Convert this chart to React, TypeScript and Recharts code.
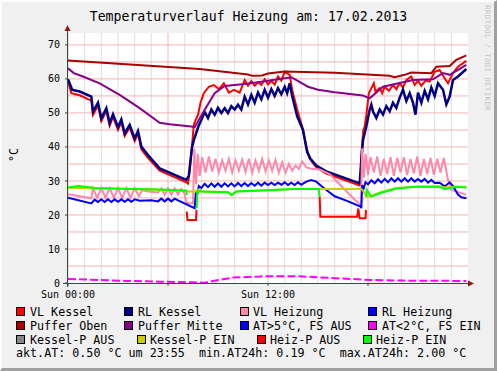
import { LineChart, Line, XAxis, YAxis, CartesianGrid, ReferenceLine } from 'recharts'

type Pt = [number, number | null]

// time in hours since Sun 00:00, temperature in °C
const vlKessel: Pt[] = [
  [0, 59.3], [0.2, 55.8], [0.7, 55.2], [1.4, 53.6], [1.5, 49.4], [1.8, 52.2], [2.0, 47.6], [2.3, 50.6],
  [2.5, 46.2], [2.7, 48.8], [3.0, 45.0], [3.2, 47.3], [3.4, 43.2], [3.7, 45.7], [4.0, 41.7], [4.2, 43.9],
  [4.4, 39.3], [4.8, 36.8], [5.5, 33.0], [7.1, 29.6], [7.2, 29.2], [7.3, 33], [7.45, 41], [7.55, 46.5],
  [7.65, 47.9], [7.8, 49.4], [7.95, 53], [8.15, 55.8], [8.45, 57.7], [8.75, 58.2], [9.05, 57.0], [9.35, 58.7],
  [9.65, 56.0], [9.95, 56.8], [10.3, 56.0], [10.6, 59.7], [10.8, 58.0], [11.0, 59.4], [11.2, 58.0], [11.4, 59.0],
  [11.6, 58.2], [11.8, 59.9], [12.0, 58.4], [12.2, 59.4], [12.4, 58.3], [12.6, 60.7], [12.8, 59.5], [13.0, 62.1],
  [13.3, 61.2], [13.45, 56.8], [13.75, 51.0], [14.05, 46.0], [14.3, 40.0], [14.5, 36.5], [14.9, 34.0], [15.5, 32.2],
  [17.5, 28.7], [17.55, 29.5], [17.62, 39], [17.72, 45], [17.8, 46], [17.9, 49.4], [18.05, 55.8], [18.35, 58.7],
  [18.45, 56.3], [18.7, 57.3], [18.85, 55.8], [19.0, 57.7], [19.25, 56.5], [19.5, 58.2], [19.7, 57.0], [19.9, 58.7],
  [20.1, 57.5], [20.3, 59.7], [20.6, 60.7], [20.8, 58.2], [21.0, 59.5], [21.2, 58.0], [21.45, 59.5], [21.7, 59.2],
  [22.0, 62.1], [22.3, 62.6], [22.6, 60.2], [22.8, 58.7], [23.1, 61.7], [23.4, 63.6], [23.9, 65.3],
]

const rlKessel: Pt[] = [
  [0, 59.9], [0.25, 56.8], [0.7, 56.3], [1.4, 54.8], [1.5, 50.4], [1.8, 53.0], [2.0, 48.4], [2.3, 51.4],
  [2.5, 47.0], [2.7, 49.6], [3.0, 45.8], [3.2, 48.1], [3.4, 44.0], [3.7, 46.5], [4.0, 42.5], [4.2, 44.7],
  [4.4, 40.1], [4.8, 37.6], [5.5, 33.7], [7.1, 30.3], [7.25, 31.5], [7.35, 36], [7.45, 40.1], [7.55, 42],
  [7.62, 43], [7.82, 46], [8.0, 47.9], [8.2, 50.3], [8.4, 48.5], [8.6, 51], [8.8, 49.5], [9.0, 51.5],
  [9.2, 50], [9.4, 51.4], [9.6, 50], [9.8, 52], [10.0, 51], [10.2, 52.4], [10.4, 51], [10.6, 54.8],
  [10.8, 52.5], [11.0, 55.3], [11.2, 53], [11.4, 56], [11.6, 54], [11.8, 56.8], [12.0, 54.5], [12.2, 57],
  [12.4, 55], [12.6, 57.3], [12.8, 55.5], [13.0, 57.7], [13.15, 55.8], [13.3, 58.7], [13.45, 55], [13.75, 49],
  [14.1, 45], [14.35, 38.5], [14.55, 36.5], [14.9, 34.5], [15.5, 32.8], [17.5, 29.3], [17.6, 36.2], [17.7, 42],
  [17.9, 46], [18.1, 50.9], [18.2, 52.4], [18.3, 50.4], [18.5, 48.5], [18.7, 51], [18.9, 49.5], [19.1, 52],
  [19.3, 50.5], [19.5, 53], [19.7, 51.5], [19.9, 54.5], [20.1, 56.8], [20.3, 53.5], [20.5, 55.8], [20.7, 53],
  [20.85, 49.5], [21.0, 56], [21.2, 53], [21.4, 56.5], [21.6, 54], [21.8, 57.5], [22.0, 55], [22.2, 58.7],
  [22.5, 56.8], [22.7, 52.5], [22.9, 54.8], [23.1, 59.7], [23.4, 60.7], [23.9, 62.9],
]

const vlHeizung: Pt[] = [
  [0, 26.1], [1.4, 24.9], [1.5, 27.9], [1.75, 25.0], [2.0, 27.9], [2.25, 25.0], [2.5, 27.9], [2.75, 25.0],
  [3.0, 27.9], [3.25, 25.0], [3.5, 27.9], [3.75, 25.0], [4.0, 27.9], [4.25, 25.5], [4.45, 27.3], [4.8, 26.9],
  [5.4, 26.6], [5.6, 27.8], [5.8, 26.0], [6.0, 27.8], [6.2, 26.0], [6.4, 27.8], [6.6, 26.0], [6.8, 27.6],
  [7.0, 26.2], [7.1, 23.5], [7.5, 23.4], [7.58, 39.5], [7.68, 29], [7.78, 38], [7.9, 31.5], [8.05, 37],
  [8.25, 32.5], [8.45, 37.2], [8.65, 32.8], [8.85, 36.5], [9.05, 32.5], [9.25, 36], [9.45, 33], [9.65, 36.5],
  [9.85, 32.5], [10.05, 36], [10.25, 33], [10.45, 36.3], [10.65, 32.7], [10.85, 36.5], [11.05, 32.5], [11.25, 36],
  [11.45, 33], [11.65, 36.5], [11.85, 32.8], [12.05, 36], [12.25, 33], [12.45, 36.2], [12.65, 32.5], [12.85, 35.5],
  [13.05, 32.5], [13.25, 35], [13.45, 33], [13.65, 34.5], [13.85, 33.5], [14.05, 35.8], [14.3, 34], [14.6, 33.6],
  [15.1, 33.4], [15.7, 32.0], [16.5, 28.0], [17.2, 24.5], [17.58, 22.9], [17.65, 39.6], [17.75, 31], [17.85, 38],
  [18.0, 31.8], [18.15, 37], [18.35, 32.5], [18.55, 37.2], [18.75, 31.5], [18.95, 36.5], [19.15, 32], [19.35, 37],
  [19.55, 31.5], [19.75, 36.8], [19.95, 32.5], [20.15, 37], [20.35, 31.8], [20.55, 36.5], [20.75, 32.2], [20.95, 37.2],
  [21.15, 31.5], [21.35, 36.5], [21.55, 32], [21.75, 36.8], [21.95, 31.8], [22.15, 36.5], [22.35, 32.5], [22.55, 36.8],
  [22.8, 30.3], [23.0, 27.4], [23.9, 25.9],
]

const rlHeizung: Pt[] = [
  [0, 25.1], [1.4, 23.4], [1.6, 24.5], [1.8, 23.8], [2.0, 24.6], [2.2, 23.8], [2.4, 24.6], [2.6, 23.8],
  [2.8, 24.6], [3.0, 23.9], [3.2, 24.6], [3.4, 23.9], [3.6, 24.6], [3.8, 23.9], [4.0, 24.6], [4.3, 24.2],
  [5.0, 24.3], [5.4, 24.0], [5.6, 24.8], [5.8, 24.0], [6.0, 24.8], [6.2, 24.0], [6.4, 24.8], [6.6, 24.3],
  [7.6, 22.0], [7.68, 27.0], [7.75, 26.0], [7.85, 28.5], [8.0, 27.9], [8.2, 29.2], [8.4, 28.2], [8.6, 29.3],
  [8.8, 28.3], [9.0, 29.3], [9.2, 28.3], [9.4, 29.3], [9.6, 28.4], [9.8, 29.3], [10.0, 28.4], [10.2, 29.4],
  [10.4, 28.5], [10.6, 29.4], [10.8, 28.5], [11.0, 29.4], [11.2, 28.6], [11.4, 29.5], [11.6, 28.6], [11.8, 29.5],
  [12.0, 28.8], [12.2, 29.5], [12.4, 28.8], [12.6, 29.5], [12.8, 28.9], [13.0, 29.6], [13.2, 28.8], [13.4, 29.5],
  [13.6, 28.8], [13.8, 29.6], [14.0, 28.9], [14.3, 29.8], [14.6, 30.3], [14.9, 29.8], [15.2, 28.5], [16.0, 25.5],
  [16.7, 24.2], [17.55, 22.5], [17.6, 22.0], [17.65, 28.8], [17.72, 27.5], [17.85, 29.6], [18.0, 29.0], [18.2, 30.2],
  [18.4, 29.3], [18.6, 30.5], [18.8, 29.5], [19.0, 30.6], [19.2, 29.6], [19.4, 30.8], [19.6, 29.8], [19.8, 30.8],
  [20.0, 29.8], [20.2, 30.8], [20.4, 29.8], [20.6, 30.8], [20.8, 29.8], [21.0, 30.6], [21.2, 29.8], [21.4, 30.6],
  [21.6, 29.5], [21.8, 30.3], [22.0, 29.4], [22.3, 29.5], [22.6, 28.4], [22.9, 29.6], [23.1, 28.5], [23.4, 26.0],
  [23.6, 25.2], [23.9, 24.9],
]

const pufferOben: Pt[] = [
  [0, 65.4], [7.9, 62.9], [10.8, 61.3], [11.05, 60.9], [11.65, 61.0], [12.0, 61.6], [13.0, 62.2], [16.0, 61.8],
  [19.3, 60.9], [19.6, 60.5], [20.2, 61.2], [20.6, 61.9], [21.8, 61.7], [22.1, 63.6], [22.9, 63.8], [23.3, 65.6],
  [23.9, 66.9],
]

const pufferMitte: Pt[] = [
  [0, 63.1], [0.35, 61.7], [0.9, 60.7], [1.9, 58.7], [3.1, 55.3], [4.3, 51.4], [5.5, 47.1], [6.1, 46.7],
  [7.4, 46.0], [7.6, 45.8], [8.2, 50.9], [8.8, 55.8], [9.4, 57.9], [10.6, 58.5], [11.6, 59.2], [12.6, 59.9],
  [13.4, 60.5], [14.4, 57.7], [15.0, 56.8], [16.0, 56.1], [17.7, 55.1], [18.1, 54.3], [18.9, 57.7], [20.7, 59.7],
  [21.9, 59.9], [22.5, 61.7], [22.9, 61.2], [23.9, 64.1],
]

const atKalt: Pt[] = [
  [0, 1.2], [3.5, 0.6], [5.5, 0.4], [7.5, 0.2], [8.2, 0.1], [8.7, 0.6], [9.9, 1.6], [11.5, 1.9],
  [11.8, 2.0], [13.6, 2.0], [14.1, 1.9], [16.1, 1.4], [18.1, 0.9], [20.1, 0.7], [23.9, 0.6],
]

const kesselPEin: Pt[] = [
  [0, 28.0], [2, 27.8], [5, 27.5], [7.1, 27.1], [7.15, 26.9], [7.7, 26.9], [7.75, 27.4], [7.95, 27.4],
  [8.05, 26.9], [9.6, 26.7], [9.8, 25.9], [10.1, 26.9], [11.6, 27.2], [13.6, 27.6], [17.6, 27.6], [17.75, 26.8],
  [17.9, 25.4], [18.2, 25.6], [18.7, 26.6], [19.7, 27.9], [20.9, 28.3], [22.3, 28.4], [22.6, 28.1], [23.3, 28.3],
  [23.9, 28.2],
]

const heizPAus: Pt[] = [
  [7.12, 21.0], [7.17, 18.5], [7.68, 18.5], [7.71, 21.5], [7.73, null],
  [15.1, 25.4], [15.14, 19.5], [17.35, 19.5], [17.42, 21.9], [17.5, 19.0], [17.85, 19.0], [17.88, 21.5],
]

const heizPEin: Pt[] = [
  [0, 28.1], [0.6, 28.5], [1.4, 28.1], [1.6, 27.9], [4.0, 27.6], [6.0, 27.4], [7.1, 27.1], [7.12, 25.9],
  [7.2, null], [7.72, 22.0], [7.76, 26.9], [8.0, 26.9], [9.6, 26.7], [9.8, 25.9], [10.1, 26.9], [11.6, 27.2],
  [13.6, 27.6], [15.05, 27.6], [15.1, 25.2], [15.15, null], [17.9, 25.4], [17.92, 27.4], [18.2, 25.4], [18.7, 26.4],
  [19.7, 27.8], [20.9, 28.3], [22.3, 28.3], [22.6, 27.6], [23.3, 28.3], [23.9, 28.1],
]

const legendNames = [
  'VL Kessel', 'RL Kessel', 'VL Heizung', 'RL Heizung',
  'Puffer Oben', 'Puffer Mitte', 'AT>5°C, FS AUS', 'AT<2°C, FS EIN',
  'Kessel-P AUS', 'Kessel-P EIN', 'Heiz-P AUS', 'Heiz-P EIN',
]
const legendColors = [
  '#ff0000', '#000080', '#ff88aa', '#0000ff',
  '#aa0000', '#880088', '#0000ff', '#ff00ff',
  '#888888', '#cccc00', '#ff0000', '#00ff00',
]
// [swatch x, text x, row top]
const legendPos = [
  [16, 30, 305], [124, 138, 305], [240, 253, 305], [368, 382, 305],
  [16, 30, 319], [124, 138, 319], [240, 253, 319], [368, 382, 319],
  [16, 30, 333], [137, 150, 333], [257, 270, 333], [363, 376, 333],
]
const statsLine = 'akt.AT: 0.50 °C um 23:55  min.AT24h: 0.19 °C  max.AT24h: 2.00 °C'

const xTicks = [0, 6, 12, 18]
const xTickLabels = ['Sun 00:00', '', 'Sun 12:00', '']
const yTicks = [0, 10, 20, 30, 40, 50, 60, 70]
const hourLines = [1, 2, 3, 4, 5, 7, 8, 9, 10, 11, 13, 14, 15, 16, 17, 19, 20, 21, 22, 23]
const majorLines = [0, 6, 12, 18]
const levelLines = [5, 10, 15, 20, 25, 30, 35, 40, 45, 50, 55, 60, 65, 70]

const rows = (p: Pt[]) => p.map(([t, v]) => ({ t, v }))

const lines = [
  { data: vlKessel, color: '#ff0000', w: 2 },
  { data: rlKessel, color: '#000080', w: 2.5 },
  { data: vlHeizung, color: '#ff88aa', w: 2 },
  { data: rlHeizung, color: '#0000ff', w: 2 },
  { data: pufferOben, color: '#aa0000', w: 2 },
  { data: pufferMitte, color: '#880088', w: 2 },
  { data: atKalt, color: '#ff00ff', w: 2, dash: '8 3' },
  { data: kesselPEin, color: '#cccc00', w: 2 },
  { data: heizPAus, color: '#ff0000', w: 2 },
  { data: heizPEin, color: '#00ff00', w: 2 },
]

const font = '"DejaVu Sans Mono", monospace'

export default function App() {
  return (
    <div style={{ position: 'absolute', left: 0, top: 0, width: 497, height: 371, background: '#f0f0f0', fontFamily: font, overflow: 'hidden' }}>
      <div style={{ position: 'absolute', left: 0, top: 0, width: 497, height: 371, boxSizing: 'border-box', borderTop: '2px solid #fcfcfc', borderLeft: '2px solid #fcfcfc', borderRight: '3px solid #a0a0a0', borderBottom: '3px solid #a0a0a0' }} />
      <div style={{ position: 'absolute', left: 0, width: 497, top: 8, lineHeight: '17px', textAlign: 'center', fontSize: 13.2, color: '#000' }}>
        Temperaturverlauf Heizung am: 17.02.2013
      </div>
      <div style={{ position: 'absolute', left: 483, top: 5, writingMode: 'vertical-rl', fontSize: 7.5, color: '#c4c4c4', letterSpacing: 0.3 }}>
        RRDTOOL / TOBI OETIKER
      </div>
      <div style={{ position: 'absolute', left: 7, top: 148, writingMode: 'vertical-rl', transform: 'rotate(180deg)', fontSize: 11.7, lineHeight: '14px' }}>
        °C
      </div>

      <LineChart width={497} height={371} margin={{ top: 33, right: 29, bottom: 58, left: 8 }} style={{ position: 'absolute', left: 0, top: 0 }}>
        <CartesianGrid fill="#ffffff" stroke="none" horizontal={false} vertical={false} />
        <XAxis
          type="number"
          dataKey="t"
          domain={[0, 24]}
          allowDataOverflow
          ticks={xTicks}
          tickFormatter={(t: number) => xTickLabels[xTicks.indexOf(t)] ?? ''}
          height={30}
          axisLine={false}
          tickLine={{ stroke: '#2c4d43' }}
          tickSize={3}
          tickMargin={5}
          tick={{ fontSize: 10, fill: '#000', fontFamily: font }}
          interval={0}
        />
        <YAxis
          type="number"
          domain={[0, 73.5]}
          allowDataOverflow
          ticks={yTicks}
          width={60}
          axisLine={false}
          tickLine={{ stroke: '#2c4d43' }}
          tickSize={3}
          tickMargin={5}
          tick={{ fontSize: 10, fill: '#000', fontFamily: font }}
          interval={0}
        />
        {hourLines.map((h) => (
          <ReferenceLine key={'h' + h} x={h} stroke="#dedede" strokeWidth={1} />
        ))}
        {levelLines.map((v) => (
          <ReferenceLine key={'v' + v} y={v} stroke="#f4b4b4" strokeWidth={1} />
        ))}
        {majorLines.map((h) => (
          <ReferenceLine key={'m' + h} x={h} stroke="#f4b4b4" strokeWidth={1} />
        ))}
        {lines.map((s, i) => (
          <Line
            key={i}
            data={rows(s.data)}
            dataKey="v"
            type="linear"
            stroke={s.color}
            strokeWidth={s.w}
            strokeDasharray={s.dash}
            dot={false}
            activeDot={false}
            connectNulls={false}
            isAnimationActive={false}
          />
        ))}
      </LineChart>

      <svg width={497} height={371} style={{ position: 'absolute', left: 0, top: 0, pointerEvents: 'none' }}>
        <line x1={67.5} y1={287} x2={67.5} y2={30} stroke="#2c4d43" strokeWidth={1} />
        <line x1={63} y1={283.5} x2={470} y2={283.5} stroke="#2c4d43" strokeWidth={1} />
        <polygon points="64.5,31 70.5,31 67.5,25" fill="#8a1a1a" />
        <polygon points="468,280.5 468,286.5 474,283.5" fill="#8a1a1a" />
      </svg>

      {legendNames.map((name, i) => (
        <div key={name}>
          <div style={{ position: 'absolute', left: legendPos[i][0], top: legendPos[i][2] + 2, width: 7, height: 7, background: legendColors[i], border: '1px solid #000' }} />
          <div style={{ position: 'absolute', left: legendPos[i][1], top: legendPos[i][2], fontSize: 11.7, lineHeight: '14px', whiteSpace: 'pre' }}>
            {name}
          </div>
        </div>
      ))}
      <div style={{ position: 'absolute', left: 16, top: 346, fontSize: 11.7, lineHeight: '14px', whiteSpace: 'pre' }}>
        {statsLine}
      </div>
    </div>
  )
}
